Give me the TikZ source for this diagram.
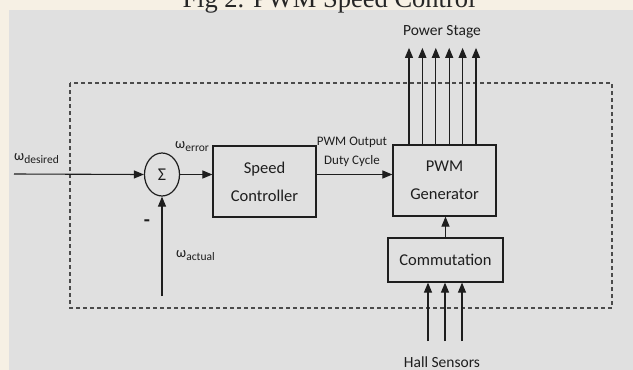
\documentclass[tikz,border=0pt]{standalone}
\usepackage{fontspec}
\usepackage{tikz}
\usepackage{xcolor}
\usetikzlibrary{arrows.meta,positioning,shapes.geometric}
\setmainfont{Carlito}
\newfontfamily\capfont{Liberation Serif}
\definecolor{paper}{RGB}{246,240,228}
\definecolor{panel}{RGB}{224,224,224}
\definecolor{ink}{RGB}{30,30,30}
\newcommand{\wsub}[1]{ω\raisebox{-3pt}{\fontsize{11.5}{12}\selectfont #1}}

\begin{document}
\begin{tikzpicture}[
      x=1pt,y=-1pt,
      block/.style={rectangle,draw=ink,line width=1.2pt,fill=panel,align=center,text=ink,font=\fontsize{16.5}{28}\selectfont},
      sumnode/.style={ellipse,draw=ink,line width=1.2pt,minimum width=35pt,minimum height=43pt,inner sep=0pt,font=\fontsize{18}{18}\selectfont,text=ink},
      lbl/.style={text=ink,inner sep=0pt,font=\fontsize{14.5}{14.5}\selectfont},
      arr/.style={-{Triangle[length=10pt,width=8pt]},line width=1.1pt,draw=ink},
      frame/.style={dashed,dash pattern=on 4pt off 3pt,line width=1.2pt,draw=ink!80}
    ]
    \useasboundingbox (0,0) rectangle (633,370);
    \fill[paper] (0,0) rectangle (633,370);
    \fill[panel] (9,10) rectangle (633,370);
    \node[anchor=base,inner sep=0pt,text=black!85,font=\capfont\fontsize{26.5}{26.5}\selectfont] (cap) at (329,7) {Fig 2. PWM Speed Control};

    \draw[frame] (70,83) rectangle (612,308);

    % main loop
    \node[sumnode] (sum) at (162,174.5) {Σ};
    \node[block,minimum width=103pt,minimum height=71pt] (spd) at (264.5,181.5) {Speed\\Controller};
    \node[block,minimum width=103pt,minimum height=71pt] (pwm) at (444.5,180.5) {PWM\\Generator};
    \node[block,minimum width=115pt,minimum height=44pt] (com) at (445.5,260) {Commutation};

    \coordinate (in) at (14,174);
    \coordinate (fb) at (162,296);
    \node[lbl,anchor=west] (wdes) at (14,159) {\wsub{desired}};
    \node[lbl,anchor=west] (werr) at (175,147) {\wsub{error}};
    \node[lbl,anchor=west] (wact) at (176,256) {\wsub{actual}};
    \node[lbl,font=\bfseries\fontsize{20}{20}\selectfont] (minus) at (147,223) {-};
    \node[text=ink,align=center,font=\fontsize{13}{19}\selectfont] (duty) at (352,152) {PWM Output\\Duty Cycle};

    \draw[arr] (in) -- (sum.west);
    \draw[arr] (fb) -- (sum.south);
    \draw[arr] (sum.east) -- (sum.east -| spd.west);
    \draw[arr] (spd.east |- sum) -- (pwm.west |- sum);
    \draw[arr] (com.north) -- (com.north |- pwm.south);

    % outputs and sensors
    \node[text=ink,font=\fontsize{15.5}{15.5}\selectfont] (pst) at (442,32) {Power Stage};
    \node[text=ink,font=\fontsize{15.5}{15.5}\selectfont] (hall) at (442,362) {Hall Sensors};
    \foreach \x in {409,422.4,435.8,449.2,462.6,476}
      \draw[arr] (pwm.north -| \x,0) -- ([yshift=-6pt]pst.south -| \x,0);
    \foreach \x in {428,445,462}
      \draw[arr] ([yshift=12pt]hall.north -| \x,0) -- (com.south -| \x,0);
  \end{tikzpicture}
\end{document}
